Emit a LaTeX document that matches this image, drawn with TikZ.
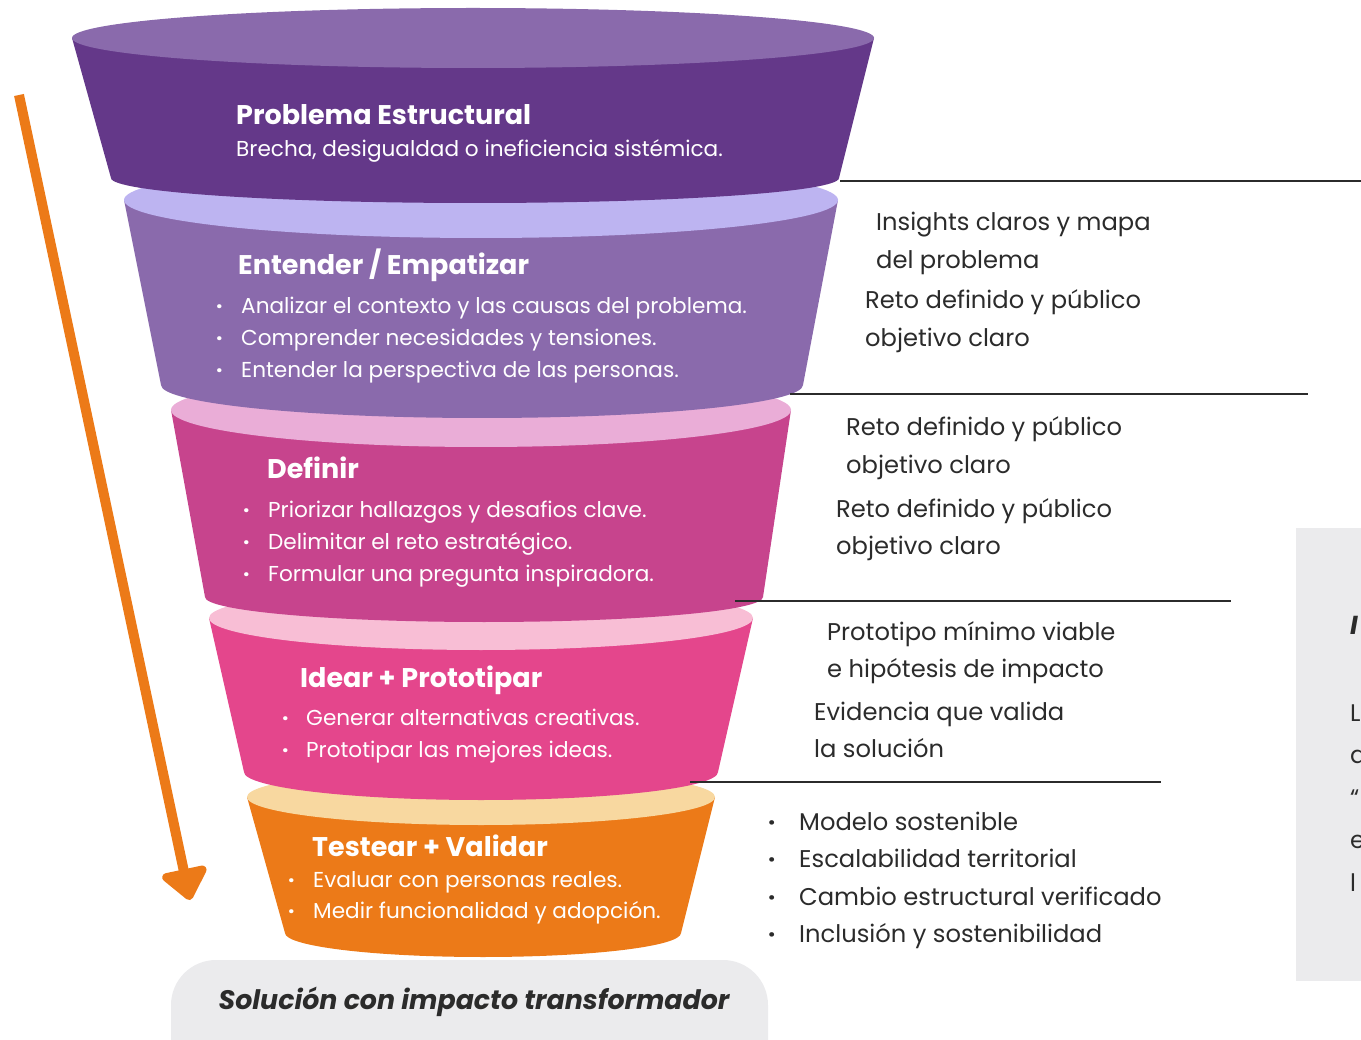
\documentclass[tikz,border=0pt]{standalone}
\usepackage{fontspec}
\setmainfont{Poppins}
\usetikzlibrary{arrows.meta}
\definecolor{lilaOsc}{HTML}{643889}
\definecolor{lilaMed}{HTML}{8A6AAC}
\definecolor{lilaCl}{HTML}{BDB4F1}
\definecolor{magenta}{HTML}{C7448D}
\definecolor{magentaCl}{HTML}{EAADD7}
\definecolor{rosa}{HTML}{E4468C}
\definecolor{rosaCl}{HTML}{F8BED5}
\definecolor{naranja}{HTML}{EC7A18}
\definecolor{naranjaCl}{HTML}{F8D8A0}
\definecolor{gris}{HTML}{2B2B2B}
\definecolor{grisCl}{HTML}{EBEBED}
\newcommand\pto[1][25pt]{\makebox[#1][l]{\textbf{·}}}
\begin{document}
\begin{tikzpicture}[x=1pt,y=-1pt,
  titulo/.style={anchor=west,inner sep=0pt,text=white,font=\fontsize{27}{32}\selectfont\bfseries},
  lista/.style={anchor=base west,inner sep=0pt,text=white,align=left,font=\fontsize{21.6}{32}\selectfont},
  nota/.style={anchor=base west,inner sep=0pt,text=gris,align=left,font=\fontsize{24.2}{37.5}\selectfont},
  raya/.style={draw=gris,line width=1.4pt}]
  \useasboundingbox (0,0) rectangle (1361,1040);
  \clip (0,0) rectangle (1361,1040);

  % funnel, from the bottom tier up
  \fill[naranja] (247,797) -- (285,933) -- (681,933) -- (715,797) -- cycle;
  \fill[naranja] (483,933) ellipse[x radius=198,y radius=24];
  \fill[naranjaCl] (481,797) ellipse[x radius=234,y radius=28];

  \fill[rosa] (209,618) -- (244,772) -- (718,772) -- (753,618) -- cycle;
  \fill[rosa] (481,772) ellipse[x radius=237,y radius=28];
  \fill[rosaCl] (481,618) ellipse[x radius=272,y radius=32];

  \fill[magenta] (171,410) -- (205,597) -- (763,597) -- (791,410) -- cycle;
  \fill[magenta] (484,597) ellipse[x radius=279,y radius=25];
  \fill[magentaCl] (481,410) ellipse[x radius=310,y radius=37];

  \fill[lilaMed] (124,200) -- (161,385) -- (803,385) -- (838,200) -- cycle;
  \fill[lilaMed] (482,385) ellipse[x radius=321,y radius=33];
  \fill[lilaCl] (481,200) ellipse[x radius=357,y radius=38];

  \fill[lilaOsc] (72,38) -- (111,178) -- (839,178) -- (874,38) -- cycle;
  \fill[lilaOsc] (475,178) ellipse[x radius=364,y radius=25];
  \fill[lilaMed] (473,38) ellipse[x radius=401,y radius=30];

  % texts in the funnel (base = last line)
  \node[titulo] (prob) at (236,115) {Problema Estructural};
  \node[lista] (probTxt) at (236,157) {Brecha, desigualdad o ineficiencia sistémica.};
  \node[titulo] (ent) at (238,265) {Entender / Empatizar};
  \node[lista] (entTxt) at (216,378) {\pto Analizar el contexto y las causas del problema.\\
    \pto Comprender necesidades y tensiones.\\ \pto Entender la perspectiva de las personas.};
  \node[titulo] (def) at (267,468) {Definir};
  \node[lista] (defTxt) at (243,581) {\pto Priorizar hallazgos y desafios clave.\\
    \pto Delimitar el reto estratégico.\\ \pto Formular una pregunta inspiradora.};
  \node[titulo] (idea) at (300,680) {Idear + Prototipar};
  \node[lista] (ideaTxt) at (282,757) {\pto[24pt]Generar alternativas creativas.\\
    \pto[24pt]Prototipar las mejores ideas.};
  \node[titulo] (test) at (312,846) {Testear + Validar};
  \node[lista,font=\fontsize{21.6}{31}\selectfont] (testTxt) at (288,918)
    {\pto Evaluar con personas reales.\\ \pto Medir funcionalidad y adopción.};

  % arrow
  \coordinate (cola) at (19,95);
  \coordinate (punta) at (190,900);
  \draw[naranja,line width=10pt,-{Triangle[length=34pt,width=52pt,round]}] (cola) -- (punta);

  % results on the right
  \draw[raya] (840,181) -- (1361,181);
  \draw[raya] (790,394) -- (1308,394);
  \draw[raya] (735,601) -- (1231,601);
  \draw[raya] (690,782) -- (1161,782);
  \node[nota] (res1) at (876,268.5) {Insights claros y mapa\\del problema};
  \node[nota] (res2) at (865,346.5) {Reto definido y público\\objetivo claro};
  \node[nota] (res3) at (846,473.5) {Reto definido y público\\objetivo claro};
  \node[nota] (res4) at (836,554.5) {Reto definido y público\\objetivo claro};
  \node[nota] (res5) at (827,677.5) {Prototipo mínimo viable\\e hipótesis de impacto};
  \node[nota] (res6) at (814,757.5) {Evidencia que valida\\la solución};
  \node[nota] (res7) at (768,942.5) {\pto[31pt]Modelo sostenible\\ \pto[31pt]Escalabilidad territorial\\
    \pto[31pt]Cambio estructural verificado\\ \pto[31pt]Inclusión y sostenibilidad};

  % side box, cut by the edge
  \fill[grisCl] (1296,528) rectangle (1380,981);
  \node[nota,font=\fontsize{26}{30}\selectfont\bfseries\itshape] (caja) at (1350,634) {I};
  \node[nota,font=\fontsize{24}{42.5}\selectfont] (cajaTxt) at (1350,891) {L\\a\\“\\e\\l};

  % final result
  \fill[grisCl,rounded corners=45pt] (171,960) rectangle (768,1110);
  \node[font=\fontsize{26.8}{30}\selectfont\bfseries\itshape,text=gris] (sol) at (474,1002)
    {Solución con impacto transformador};
\end{tikzpicture}
\end{document}
